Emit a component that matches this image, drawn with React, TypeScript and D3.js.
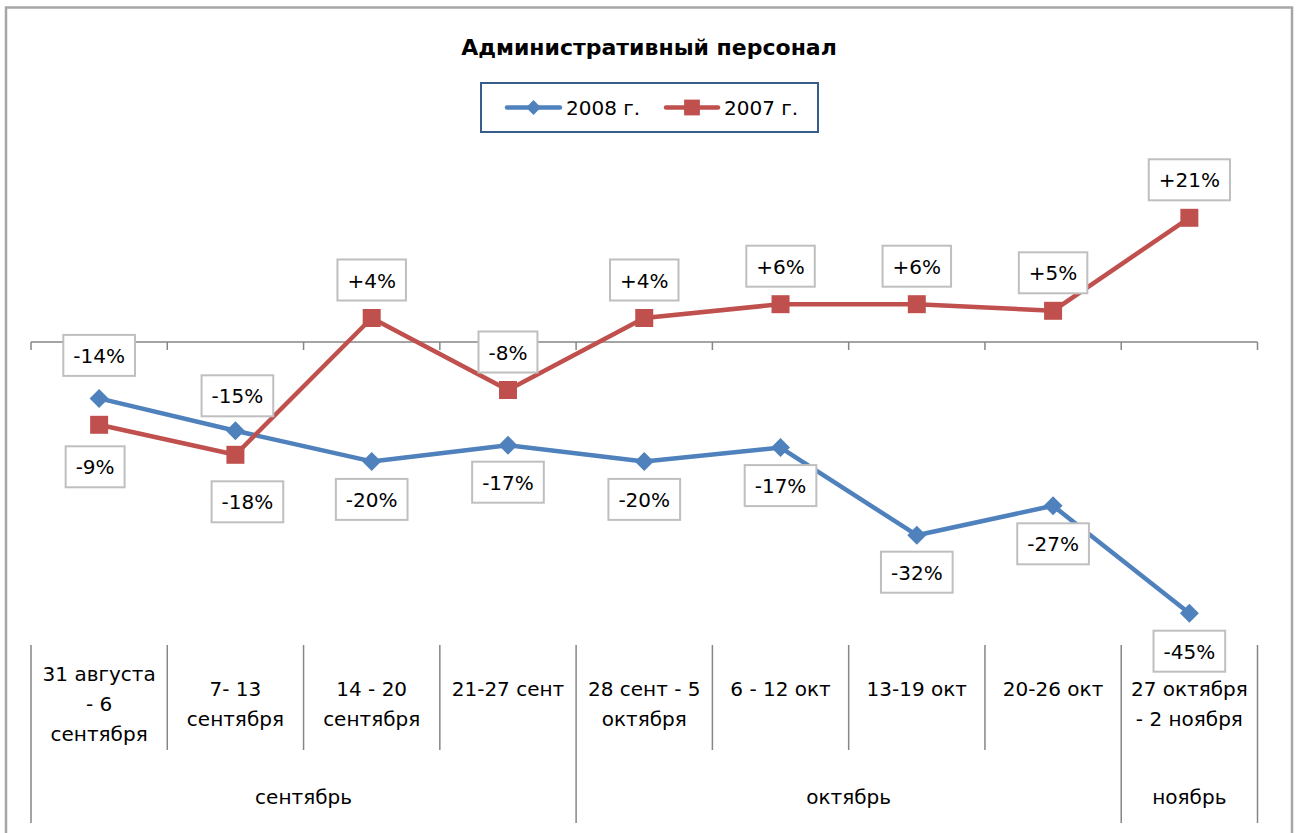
import React from 'react';
import * as d3 from 'd3';

// week ranges (first level of the category axis)
const categories = [
  '31 августа\n- 6\nсентября',
  '7- 13\nсентября',
  '14 - 20\nсентября',
  '21-27 сент',
  '28 сент - 5\nоктября',
  '6 - 12 окт',
  '13-19 окт',
  '20-26 окт',
  '27 октября\n- 2 ноября',
];

// second level of the category axis
const months = ['сентябрь', 'октябрь', 'ноябрь'];
const monthSpans = [4, 4, 1];

const values2008 = [-9.4, -14.8, -19.9, -17.2, -19.9, -17.6, -32.2, -27.3, -45.2];
const values2007 = [-13.8, -18.8, 4, -8, 4, 6.3, 6.3, 5.2, 20.7];

const labels2008 = ['-14%', '-15%', '-20%', '-17%', '-20%', '-17%', '-32%', '-27%', '-45%'];
const labels2007 = ['-9%', '-18%', '+4%', '-8%', '+4%', '+6%', '+6%', '+5%', '+21%'];

// label placement relative to the point: [dx, dy]
const offsets2008 = [[0, -43], [2, -35], [0, 38], [0, 37], [0, 38], [0, 38], [0, 37], [0, 38], [0, 38]];
const offsets2007 = [[-4, 42], [12, 47], [0, -38], [0, -38], [0, -38], [0, -38], [0, -38], [0, -38], [0, -38]];

const BLUE = '#4F81BD';
const RED = '#C0504D';
const GRID = '#868686';
const FONT = "'DejaVu Sans', sans-serif";
const FS = 20;

let ctx = null;
function textWidth(s, size) {
  if (!ctx) ctx = document.createElement('canvas').getContext('2d');
  ctx.font = size + 'px ' + FONT;
  return ctx.measureText(s).width;
}

function DataLabel({ x, y, text }) {
  const w = textWidth(text, FS) + 20;
  const h = 41;
  return (
    <g>
      <rect x={x - w / 2} y={y - h / 2} width={w} height={h} fill="#fff" stroke="#BFBFBF" strokeWidth={2} />
      <text x={x} y={y + 7.5} textAnchor="middle" fontSize={FS}>{text}</text>
    </g>
  );
}

export default function App() {
  const width = 1299, height = 833;
  const left = 31, right = 1257.5;

  const x = d3.scaleBand().domain(categories).range([left, right]).padding(0);
  const y = d3.scaleLinear().domain([-50, 30]).range([642, 162]);
  const cx = (i) => x(categories[i]) + x.bandwidth() / 2;

  const line = d3.line()
    .x((d, i) => cx(i))
    .y((d) => y(d));

  const diamond = d3.symbol().type(d3.symbolSquare).size(180)();
  const square = d3.symbol().type(d3.symbolSquare).size(324)();
  const diamondSmall = d3.symbol().type(d3.symbolSquare).size(110)();
  const squareSmall = d3.symbol().type(d3.symbolSquare).size(250)();

  const zero = y(0);
  const bounds = categories.map((c) => x(c)).concat([right]);

  // month boundaries
  const monthBounds = [0];
  monthSpans.forEach((s, i) => monthBounds.push(monthBounds[i] + s));

  return (
    <svg width={width} height={height} style={{ position: 'absolute', left: 0, top: 0 }}
         fontFamily={FONT}>
      <rect x={0} y={0} width={width} height={height} fill="#fff" />
      <rect x={6} y={7.5} width={1286} height={900} fill="none" stroke="#A6A6A6" strokeWidth={2.5} />

      <text x={649} y={55} textAnchor="middle" fontSize={22} fontWeight="bold">Административный персонал</text>

      {/* legend */}
      <rect x={481} y={83} width={337} height={49} fill="#fff" stroke="#385D8A" strokeWidth={2} />
      <line x1={507} x2={560} y1={107.5} y2={107.5} stroke={BLUE} strokeWidth={4.5} strokeLinecap="round" />
      <path d={diamondSmall} transform="translate(533.5,107.5) rotate(45)" fill={BLUE} />
      <text x={566} y={115} fontSize={FS}>2008 г.</text>
      <line x1={666} x2={718} y1={107.5} y2={107.5} stroke={RED} strokeWidth={4.5} strokeLinecap="round" />
      <path d={squareSmall} transform="translate(692,107.5)" fill={RED} />
      <text x={724} y={115} fontSize={FS}>2007 г.</text>

      {/* zero axis with ticks */}
      <line x1={left} x2={right} y1={zero} y2={zero} stroke={GRID} strokeWidth={1.5} />
      {bounds.map((b, i) => (
        <line key={'t' + i} x1={b} x2={b} y1={zero} y2={zero + 8} stroke={GRID} strokeWidth={1.5} />
      ))}

      {/* category labels, low position */}
      {bounds.map((b, i) => (
        <line key={'s' + i} x1={b} x2={b} y1={645} y2={monthBounds.includes(i) ? 823 : 750}
              stroke={GRID} strokeWidth={1.5} />
      ))}
      {categories.map((c, i) => {
        const lines = c.split('\n');
        const n = Math.max(lines.length, 2);
        const first = 711 - (n - 1) * 15;
        return (
          <text key={'c' + i} x={cx(i)} textAnchor="middle" fontSize={FS}>
            {lines.map((l, j) => (
              <tspan key={j} x={cx(i)} y={first + j * 30}>{l}</tspan>
            ))}
          </text>
        );
      })}
      {months.map((m, i) => {
        const x0 = bounds[monthBounds[i]], x1 = bounds[monthBounds[i + 1]];
        return (
          <text key={'m' + i} x={(x0 + x1) / 2} y={804} textAnchor="middle" fontSize={FS}>{m}</text>
        );
      })}

      {/* series */}
      <path d={line(values2008)} fill="none" stroke={BLUE} strokeWidth={4.5} strokeLinejoin="round" strokeLinecap="round" />
      <path d={line(values2007)} fill="none" stroke={RED} strokeWidth={4.5} strokeLinejoin="round" strokeLinecap="round" />
      {values2008.map((v, i) => (
        <path key={'b' + i} d={diamond} transform={`translate(${cx(i)},${y(v)}) rotate(45)`} fill={BLUE} />
      ))}
      {values2007.map((v, i) => (
        <path key={'r' + i} d={square} transform={`translate(${cx(i)},${y(v)})`} fill={RED} />
      ))}

      {/* data labels */}
      {values2008.map((v, i) => (
        <DataLabel key={'lb' + i} x={cx(i) + offsets2008[i][0]} y={y(v) + offsets2008[i][1]} text={labels2008[i]} />
      ))}
      {values2007.map((v, i) => (
        <DataLabel key={'lr' + i} x={cx(i) + offsets2007[i][0]} y={y(v) + offsets2007[i][1]} text={labels2007[i]} />
      ))}
    </svg>
  );
}
